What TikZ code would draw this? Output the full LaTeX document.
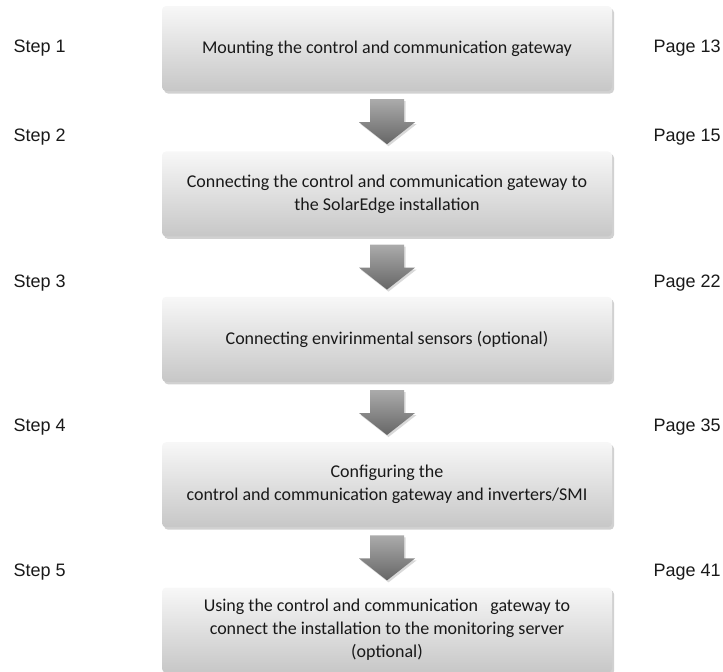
\documentclass[tikz,border=0pt]{standalone}
\usepackage{fontspec}
\setmainfont{Carlito}
\newfontfamily\labelfont{Liberation Sans}
\usetikzlibrary{shadows,positioning}

\begin{document}
\begin{tikzpicture}[
    x=1pt, y=1pt,
    box/.style={rounded corners=4pt, minimum width=450pt, minimum height=85pt, align=center,
        top color=black!3, bottom color=black!22, draw=none, text=black!90,
        font=\fontsize{18}{23}\selectfont,
        drop shadow={shadow xshift=2pt, shadow yshift=-2.5pt, opacity=0.3, fill=black!60}},
    darr/.style={draw=none, top color=black!33, bottom color=black!60,
        drop shadow={shadow xshift=1.5pt, shadow yshift=-2pt, opacity=0.25, fill=black!60}},
    lbl/.style={anchor=west, font=\labelfont\fontsize{18}{21}\selectfont, text=black!90},
    node distance=60pt
]
\useasboundingbox (0,0) rectangle (723,-672);

% steps
\node[box] (s1) at (387,-48.5) {Mounting the control and communication gateway};
\node[box, below=of s1] (s2) {Connecting the control and communication gateway to\\the SolarEdge installation};
\node[box, below=of s2] (s3) {Connecting envirinmental sensors (optional)};
\node[box, below=of s3] (s4) {Configuring the\\control and communication gateway and inverters/SMI};
\node[box, below=of s4] (s5) {Using the control and communication\ \ \ gateway to\\connect the installation to the monitoring server\\(optional)};

% block arrows between the steps
\foreach \a in {1,...,4} {
  \path[darr] ([yshift=-8pt]s\a.south) coordinate (a\a)
    ++(-17,0) -- ++(34,0) -- ++(0,-23) -- ++(11,0) -- ++(-28,-22) -- ++(-28,22) -- ++(11,0) -- cycle;
}

% labels left and right
\node[lbl] (st1) at (10,-48) {Step 1};
\node[lbl] (st2) at (10,-137) {Step 2};
\node[lbl] (st3) at (10,-283) {Step 3};
\node[lbl] (st4) at (10,-427) {Step 4};
\node[lbl] (st5) at (10,-572) {Step 5};
\node[lbl] (pg1) at (650,-48) {Page 13};
\node[lbl] (pg2) at (650,-137) {Page 15};
\node[lbl] (pg3) at (650,-283) {Page 22};
\node[lbl] (pg4) at (650,-427) {Page 35};
\node[lbl] (pg5) at (650,-572) {Page 41};

\end{tikzpicture}
\end{document}
